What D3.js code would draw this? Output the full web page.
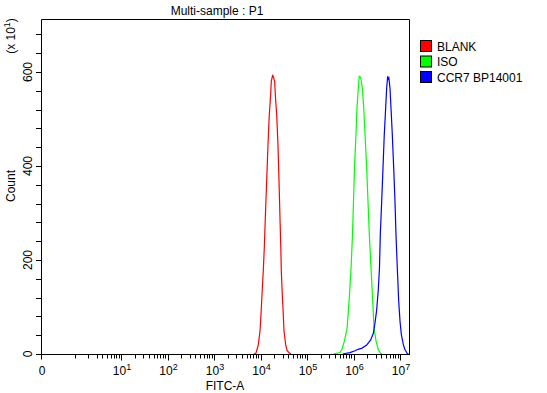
<!DOCTYPE html>
<html>
<head>
<meta charset="utf-8">
<script src="https://cdn.jsdelivr.net/npm/d3@7/dist/d3.min.js"></script>
<style>
  html, body { margin: 0; padding: 0; background: #fff; }
  svg { display: block; font-family: "Liberation Sans", Arial, sans-serif; }
</style>
</head>
<body>
<script>
// ---------- data (FITC-A value, count in units of 10) ----------
const seriesNames = ["BLANK", "ISO", "CCR7 BP14001"];
const seriesColors = ["#ff0000", "#00ff00", "#0000ff"];

const blankFitc = [7240, 8000, 8980, 9760, 10250, 10770, 11480, 12070, 12680, 13330, 14490, 15460, 16560, 17060, 18290, 20190, 20800, 22290, 23770, 25350, 26250, 27350, 28000, 29430, 30900, 32000, 34800, 37100, 41600, 45300];
const blankCount = [0, 2, 20, 49, 84, 126, 177, 226, 289, 347, 445, 509, 552, 580, 594, 580, 552, 509, 445, 347, 289, 226, 177, 126, 84, 49, 20, 8, 2, 0];

const isoFitc = [368000, 513000, 560000, 640000, 728000, 804000, 887000, 951000, 1000000, 1050000, 1130000, 1190000, 1270000, 1330000, 1420000, 1550000, 1660000, 1770000, 1920000, 2050000, 2190000, 2380000, 2590000, 2760000, 3050000, 3410000, 3850000, 4100000];
const isoCount = [0, 3, 9, 28, 55, 113, 183, 254, 325, 396, 467, 524, 566, 591, 589, 566, 524, 467, 396, 325, 254, 183, 113, 55, 28, 9, 1, 0];

const ccr7Fitc = [594000, 656000, 841000, 1080000, 1250000, 1500000, 1920000, 2340000, 2670000, 2900000, 3150000, 3410000, 3620000, 3770000, 4040000, 4310000, 4590000, 4920000, 5170000, 5430000, 5600000, 5770000, 6090000, 6400000, 6830000, 7320000, 7800000, 8200000, 8750000, 9370000, 10000000, 10700000, 11800000, 12800000, 14400000, 15200000];
const ccr7Count = [0, 1, 3, 7, 10, 12, 19, 30, 44, 66, 94, 136, 183, 254, 325, 396, 467, 524, 566, 591, 585, 587, 566, 524, 467, 396, 325, 254, 183, 113, 70, 41, 20, 9, 1, 0];

const yMajorTicks = [0, 200, 400, 600];
const yMinorTicks = [40, 80, 120, 160, 240, 280, 320, 360, 440, 480, 520, 560, 640, 680];
const xDecadeExps = [1, 2, 3, 4, 5, 6, 7];
const titleText = "Multi-sample : P1";
const xTitle = "FITC-A";
const yTitle = "Count";
const yUnit = "(x 10";

// ---------- layout ----------
const W = 547, H = 393;
const mLeft = 41, mRight = 409, mTop = 19, mBottom = 354;

const svg = d3.select("body").append("svg").attr("width", W).attr("height", H);

const x = d3.scaleLog().domain([1, 1e7]).range([74.5, 400]);
const xMax = x.invert(mRight);
const y = d3.scaleLinear().domain([0, 600]).range([mBottom, 72]);

// histograms
const allSeries = [
  { fitc: blankFitc, count: blankCount },
  { fitc: isoFitc, count: isoCount },
  { fitc: ccr7Fitc, count: ccr7Count }
];
const line = d3.line().x(d => x(d[0])).y(d => y(d[1]));
allSeries.forEach((s, i) => {
  const pts = s.fitc.map((f, j) => [f, s.count[j]]);
  svg.append("path")
    .attr("d", line(pts))
    .attr("fill", "none")
    .attr("stroke", seriesColors[i])
    .attr("stroke-width", 1.2);
});

// frame
const frame = svg.append("g").attr("fill", "none").attr("stroke", "#000").attr("stroke-width", 1);
frame.append("path").attr("d", `M${mLeft + 0.5},${mBottom + 0.5}V${mTop + 0.5}H${mRight + 0.5}V${mBottom + 0.5}`);

// x axis
const gx = svg.append("g").attr("transform", `translate(0,${mBottom + 0.5})`);
gx.append("line").attr("x1", mLeft - 5).attr("x2", mRight + 1).attr("stroke", "#000");
gx.append("line").attr("x1", mLeft + 0.5).attr("x2", mLeft + 0.5).attr("y1", 0).attr("y2", 5).attr("stroke", "#000");
const minorVals = [];
for (let e = 0; e <= 7; e++) {
  for (let m = 1; m <= 9; m++) {
    const v = m * Math.pow(10, e);
    if (v <= xMax && !(m === 1 && e >= 1)) minorVals.push(v);
  }
}
minorVals.forEach(v => {
  const px = Math.round(x(v)) + 0.5;
  gx.append("line").attr("x1", px).attr("x2", px).attr("y1", 0).attr("y2", 4).attr("stroke", "#000");
});
xDecadeExps.forEach(e => {
  const px = Math.round(x(Math.pow(10, e))) + 0.5;
  gx.append("line").attr("x1", px).attr("x2", px).attr("y1", 0).attr("y2", 6).attr("stroke", "#000");
});
svg.append("text").attr("x", mLeft + 1).attr("y", 375).attr("text-anchor", "middle")
  .attr("font-size", 12).text("0");
xDecadeExps.forEach(e => {
  const t = svg.append("text").attr("x", x(Math.pow(10, e)) + 1).attr("y", 375)
    .attr("text-anchor", "middle").attr("font-size", 12);
  t.append("tspan").text("10");
  t.append("tspan").attr("dy", -5).attr("font-size", 9).text(String(e));
});
svg.append("text").attr("x", 225).attr("y", 390).attr("text-anchor", "middle")
  .attr("font-size", 12).text(xTitle);

// y axis
const gy = svg.append("g");
yMinorTicks.concat(yMajorTicks).forEach(v => {
  const py = Math.round(y(v)) + 0.5;
  gy.append("line").attr("x1", mLeft - 5).attr("x2", mLeft).attr("y1", py).attr("y2", py).attr("stroke", "#000");
});
yMajorTicks.forEach(v => {
  svg.append("text")
    .attr("transform", `translate(32,${y(v)}) rotate(-90)`)
    .attr("text-anchor", "middle").attr("font-size", 12).text(String(v));
});
svg.append("text")
  .attr("transform", `translate(15,186) rotate(-90)`)
  .attr("text-anchor", "middle").attr("font-size", 12).text(yTitle);
const unit = svg.append("text")
  .attr("transform", `translate(15,36) rotate(-90)`)
  .attr("text-anchor", "middle").attr("font-size", 12);
unit.append("tspan").text(yUnit);
unit.append("tspan").attr("dy", -5).attr("font-size", 9).text("1");
unit.append("tspan").attr("dy", 5).text(")");

// title
svg.append("text").attr("x", 217).attr("y", 15).attr("text-anchor", "middle")
  .attr("font-size", 12).text(titleText);

// legend
const lg = svg.append("g");
seriesNames.forEach((n, i) => {
  const yy = 40 + i * 15.5;
  lg.append("rect").attr("x", 420.5).attr("y", yy + 0.5).attr("width", 11).attr("height", 11)
    .attr("fill", seriesColors[i]).attr("stroke", "#000").attr("stroke-width", 1);
  lg.append("text").attr("x", 437).attr("y", yy + 10.5).attr("font-size", 12).text(n);
});
</script>
</body>
</html>
